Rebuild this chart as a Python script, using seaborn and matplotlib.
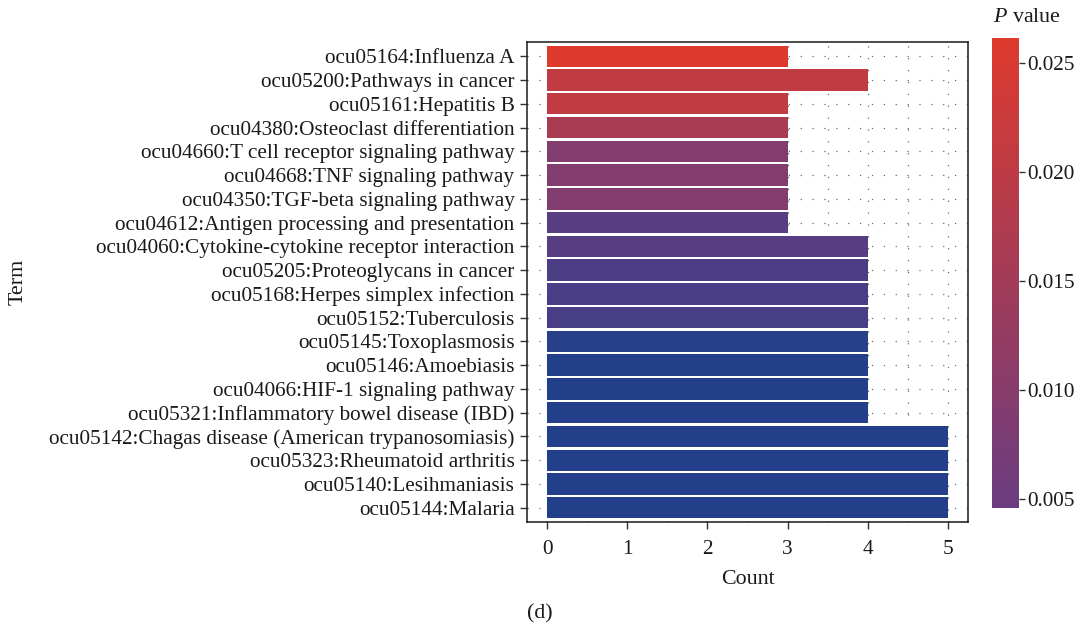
import numpy as np
import pandas as pd
import matplotlib
matplotlib.use("Agg")
import matplotlib.pyplot as plt
import seaborn as sns
from matplotlib.colors import LinearSegmentedColormap, Normalize
from matplotlib.cm import ScalarMappable
from matplotlib.ticker import MultipleLocator

terms = [
    "ocu05164:Influenza A",
    "ocu05200:Pathways in cancer",
    "ocu05161:Hepatitis B",
    "ocu04380:Osteoclast differentiation",
    "ocu04660:T cell receptor signaling pathway",
    "ocu04668:TNF signaling pathway",
    "ocu04350:TGF-beta signaling pathway",
    "ocu04612:Antigen processing and presentation",
    "ocu04060:Cytokine-cytokine receptor interaction",
    "ocu05205:Proteoglycans in cancer",
    "ocu05168:Herpes simplex infection",
    "ocu05152:Tuberculosis",
    "ocu05145:Toxoplasmosis",
    "ocu05146:Amoebiasis",
    "ocu04066:HIF-1 signaling pathway",
    "ocu05321:Inflammatory bowel disease (IBD)",
    "ocu05142:Chagas disease (American trypanosomiasis)",
    "ocu05323:Rheumatoid arthritis",
    "ocu05140:Lesihmaniasis",
    "ocu05144:Malaria",
]
counts = [3, 4, 3, 3, 3, 3, 3, 3, 4, 4, 4, 4, 4, 4, 4, 4, 5, 5, 5, 5]
pvalues = [0.0261, 0.0208, 0.0207, 0.0163, 0.0093, 0.0092, 0.0091, 0.0037,
           0.0036, 0.0029, 0.0028, 0.0027, 0.0009, 0.0006, 0.0006, 0.0006,
           0.0005, 0.0005, 0.0005, 0.0005]

cbar_ticks = [0.005, 0.010, 0.015, 0.020, 0.025]
cbar_range = (0.0046, 0.02615)

df = pd.DataFrame({"Term": terms, "Count": counts, "P": pvalues})

# colour scale (blue -> purple -> red)
p_lo, p_mid, p_hi = 0.0005, 0.0046, 0.0262
nodes = [
    (0.0, (35/255, 63/255, 138/255)),
    ((p_mid - p_lo) / (p_hi - p_lo), (106/255, 61/255, 128/255)),
    (1.0, (222/255, 58/255, 45/255)),
]
cmap = LinearSegmentedColormap.from_list("pval", nodes)
norm = Normalize(vmin=p_lo, vmax=p_hi)
palette = {t: cmap(norm(p)) for t, p in zip(terms, pvalues)}

serif = ["Liberation Serif", "DejaVu Serif"]
sns.set_theme(style="white")
plt.rcParams["font.family"] = serif
plt.rcParams["mathtext.fontset"] = "custom"
plt.rcParams["mathtext.rm"] = "Liberation Serif"
plt.rcParams["mathtext.it"] = "Liberation Serif:italic"

FS = 15.3
TXT = "#1a1a1a"

fig = plt.figure(figsize=(10.81, 6.28), dpi=100)
ax = fig.add_axes([527/1081, (628-522)/628, (968-527)/1081, (522-42)/628])

sns.barplot(data=df, x="Count", y="Term", hue="Term", palette=palette,
            order=terms, hue_order=terms, width=0.9, legend=False,
            saturation=1, linewidth=0, ax=ax, zorder=2)

ax.set_xlim(-0.25, 5.25)
ax.set_ylim(len(terms) - 0.4, -0.6)
ax.xaxis.set_major_locator(MultipleLocator(1))
ax.xaxis.set_minor_locator(MultipleLocator(0.5))

ax.set_axisbelow(True)
grid_kw = dict(color="#6a6a6a", linewidth=0.9, linestyle=(0, (1, 8.5)))
ax.grid(True, which="major", axis="both", **grid_kw)
ax.grid(True, which="minor", axis="x", **grid_kw)

for s in ax.spines.values():
    s.set_visible(True)
    s.set_color("#1a1a1a")
    s.set_linewidth(1.1)

ax.tick_params(axis="both", which="major", length=5, width=1.0, color="#333333",
               labelsize=FS, labelcolor=TXT, direction="out",
               left=True, bottom=True, pad=4)
ax.tick_params(axis="x", which="major", pad=8)
ax.tick_params(axis="x", which="minor", length=0)
ax.set_xlabel("Count", fontsize=FS + 0.5, color=TXT, labelpad=8)
ax.set_ylabel("Term", fontsize=FS + 0.5, color=TXT)
ax.yaxis.set_label_coords(-1.132, 0.5)

# colorbar
lo_f, hi_f = norm(cbar_range[0]), norm(cbar_range[1])
sub = LinearSegmentedColormap.from_list(
    "sub", [cmap(v) for v in np.linspace(lo_f, hi_f, 256)])
cax = fig.add_axes([992/1081, (628-508)/628, 27/1081, (508-38)/628])
sm = ScalarMappable(norm=Normalize(*cbar_range), cmap=sub)
cb = fig.colorbar(sm, cax=cax, ticks=cbar_ticks)
cb.outline.set_visible(False)
cb.ax.set_yticklabels([f"{t:.3f}" for t in cbar_ticks])
cb.ax.tick_params(length=4, width=1.0, color="#333333", labelsize=FS,
                  labelcolor=TXT, pad=2)
fig.text(993/1081, 1 - 18/628, r"$P$ value", fontsize=FS + 0.5,
         color=TXT, ha="left", va="center")

fig.text(540/1081, 1 - 614/628, "(d)", fontsize=FS + 0.5, color=TXT,
         ha="center", va="center")

fig.savefig("out.png", dpi=100)
